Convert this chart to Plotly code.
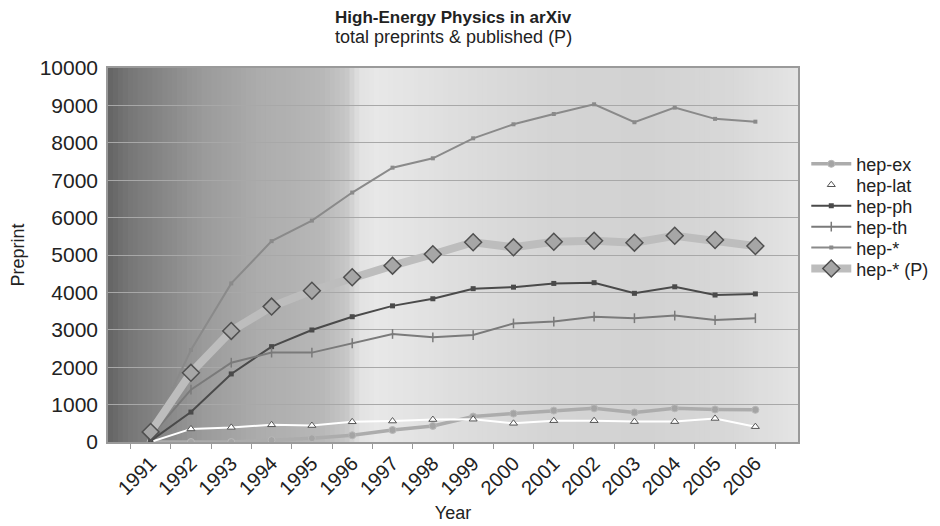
import plotly.graph_objects as go

years = [str(y) for y in range(1991, 2007)]

hep_ex = [0, 0, 0, 50, 100, 180, 320, 430, 680, 760, 840, 900, 790, 900, 870, 860]
hep_lat = [0, 350, 390, 460, 440, 540, 560, 600, 610, 500, 570, 570, 545, 545, 630, 410]
hep_ph = [30, 800, 1820, 2550, 2995, 3350, 3640, 3830, 4100, 4140, 4240, 4260, 3975, 4150, 3930, 3960]
hep_th = [150, 1400, 2120, 2390, 2390, 2640, 2890, 2800, 2860, 3170, 3220, 3350, 3310, 3380, 3260, 3310]
hep_all = [200, 2460, 4240, 5370, 5920, 6670, 7335, 7585, 8120, 8495, 8770, 9030, 8550, 8940, 8640, 8565]
hep_all_p = [270, 1850, 2970, 3620, 4045, 4405, 4715, 5020, 5340, 5205, 5355, 5380, 5330, 5515, 5400, 5240]

y_ticks = list(range(0, 10001, 1000))

series = [
    ("hep-ex", hep_ex, dict(color="#acacac", width=3.5),
     dict(symbol="circle", size=7, color="#a4a4a4", line=dict(color="#b8b8b8", width=1))),
    ("hep-lat", hep_lat, dict(color="#ffffff", width=2),
     dict(symbol="triangle-up", size=7, color="#ffffff", line=dict(color="#555555", width=1))),
    ("hep-ph", hep_ph, dict(color="#4a4a4a", width=2),
     dict(symbol="square", size=5, color="#4a4a4a")),
    ("hep-th", hep_th, dict(color="#7a7a7a", width=2),
     dict(symbol="line-ns", size=7, color="#7a7a7a", line=dict(color="#7a7a7a", width=1.5))),
    ("hep-*", hep_all, dict(color="#8a8a8a", width=2),
     dict(symbol="square", size=4, color="#8a8a8a")),
    ("hep-* (P)", hep_all_p, dict(color="#bdbdbd", width=8),
     dict(symbol="diamond", size=13, color="#a6a6a6", line=dict(color="#505050", width=1.5))),
]

fig = go.Figure()
legend_names = ["legend", "legend2", "legend3", "legend4", "legend5", "legend6"]
for (name, vals, line, marker), lg in zip(series, legend_names):
    fig.add_trace(go.Scatter(x=years, y=vals, name=name, mode="lines+markers",
                             line=line, marker=marker, legend=lg))

# gradient background (style only)
stops = [(0.0, 100), (0.03, 118), (0.14, 155), (0.22, 172), (0.31, 184), (0.345, 198),
         (0.365, 226), (0.39, 232), (0.5, 222), (0.64, 212), (0.78, 210), (0.9, 216), (1.0, 228)]

def level(t):
    for (a, va), (b, vb) in zip(stops[:-1], stops[1:]):
        if a <= t <= b:
            return va + (vb - va) * (t - a) / (b - a)
    return stops[-1][1]

shapes = []
n = 140
for i in range(n):
    t0, t1 = i / n, (i + 1) / n
    g = int(round(level((t0 + t1) / 2)))
    shapes.append(dict(type="rect", xref="paper", yref="paper", x0=t0, x1=min(1.0, t1 + 0.002), y0=0, y1=1,
                       fillcolor=f"rgb({g},{g},{g})", line=dict(width=0), layer="below"))

legend_style = dict(x=1.012, xanchor="left", yanchor="middle", font=dict(size=18, color="#222222"),
                    itemwidth=40, bgcolor="rgba(0,0,0,0)", borderwidth=0)
legend_y = [0.743, 0.687, 0.631, 0.575, 0.519, 0.463]
legend_layout = {lg: dict(legend_style, y=yy) for lg, yy in zip(legend_names, legend_y)}

fig.update_layout(
    width=940, height=526,
    margin=dict(l=100, r=150, t=60, b=92),
    paper_bgcolor="white",
    plot_bgcolor="rgba(0,0,0,0)",
    shapes=shapes,
    font=dict(family="Liberation Sans, Arial, sans-serif", color="#222222", size=18),
    showlegend=True,
    **legend_layout,
)
fig.add_annotation(text="<b>High-Energy Physics in arXiv</b>", xref="paper", yref="paper",
                   x=0.5, y=1.0, yanchor="middle", yshift=51, showarrow=False,
                   font=dict(size=17, color="#222222"))
fig.add_annotation(text="total preprints & published (P)", xref="paper", yref="paper",
                   x=0.5, y=1.0, yanchor="middle", yshift=31, showarrow=False,
                   font=dict(size=18, color="#222222"))

fig.update_xaxes(
    type="category", tickson="boundaries", ticks="outside", ticklen=5, tickcolor="#999999",
    tickangle=-45, showgrid=False, showline=True, linecolor="#9a9a9a", linewidth=1.5, mirror=True,
    automargin=False,
    title=dict(text="Year", font=dict(size=18), standoff=8), tickfont=dict(size=20),
)
fig.update_yaxes(
    range=[0, 10000], tickvals=y_ticks, ticktext=[str(v) for v in y_ticks],
    showgrid=True, gridcolor="#a8a8a8", gridwidth=1, zeroline=False, automargin=False,
    showline=True, linecolor="#9a9a9a", linewidth=1.5, mirror=True, ticks="", ticklabelstandoff=4,
    title=dict(text="Preprint", font=dict(size=18), standoff=14), tickfont=dict(size=21),
)

fig.write_html("out.html")
